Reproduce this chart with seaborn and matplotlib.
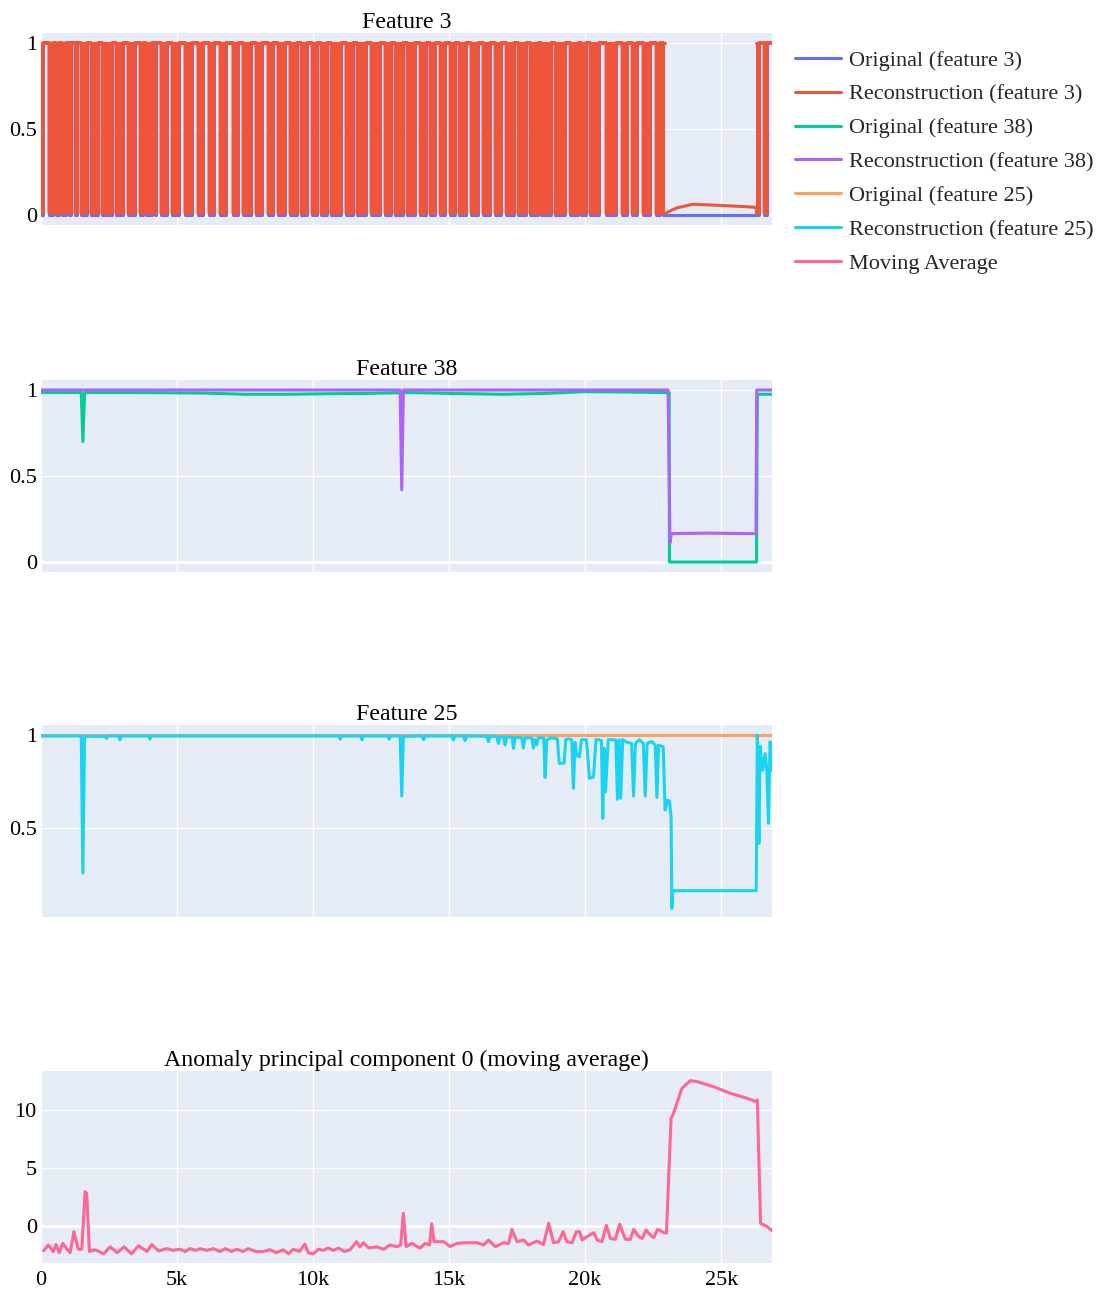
import matplotlib
matplotlib.use("Agg")
import matplotlib.pyplot as plt
import seaborn as sns
import numpy as np
from matplotlib.ticker import FixedLocator, FuncFormatter

# ---------------------------------------------------------------- data
X_END = 26870

# Feature 3: stretches where the signal rests at 1; between them it toggles
# densely between 0 and 1
F3_GAPS = [(74, 294), (441, 551), (662, 772), (919, 1029), (1103, 1250),
           (1324, 1471), (1691, 1838), (2096, 2243), (2610, 2757),
           (3015, 3199), (3456, 3640), (3750, 3860), (4081, 4191),
           (4228, 4412), (4632, 4816), (5074, 5294), (5551, 5772),
           (5956, 6176), (6360, 6581), (6801, 7059), (7243, 7426),
           (7721, 7904), (8125, 8346), (8529, 8713), (8971, 9154),
           (9412, 9559), (9779, 9963), (10147, 10294), (10515, 10662),
           (11029, 11213), (11471, 11618), (11949, 12132), (12463, 12647),
           (12868, 13015), (13309, 13456), (13750, 13934), (14154, 14301),
           (14485, 14669), (14853, 15037), (15221, 15368), (15625, 15809),
           (16066, 16250), (16507, 16691), (16912, 17096), (17390, 17537),
           (17831, 17978), (18272, 18382), (18750, 18897), (19265, 19449),
           (19743, 19853), (20037, 20184), (20515, 20772), (21140, 21360),
           (21544, 21728), (21912, 22132), (22390, 22610), (22757, 22868)]
F3_DENSE_END = 22940
F3_LOW_X = [22990, 23240, 23400, 23970, 25000, 26000, 26290]
F3_LOW_RECON = [0.015, 0.035, 0.045, 0.065, 0.058, 0.05, 0.046]
F3_TAIL_START = 26300
F3_TAIL_GAPS = [(26400, 26580), (26680, 26870)]

# Feature 38
F38_ORIG_X = [0, 1480, 1540, 1600, 3500, 6000, 7500, 9000, 10500, 12000,
              13500, 15000, 17000, 18500, 20000, 21500, 22900, 23090, 23100,
              26300, 26330, 26870]
F38_ORIG = [0.985, 0.985, 0.70, 0.985, 0.985, 0.982, 0.975, 0.975, 0.978,
            0.98, 0.985, 0.98, 0.975, 0.98, 0.99, 0.988, 0.985, 0.985, 0.0,
            0.0, 0.975, 0.975]
F38_RECON_X = [0, 13200, 13260, 13320, 23050, 23120, 23170, 24500, 26280,
               26310, 26870]
F38_RECON = [1.0, 1.0, 0.42, 1.0, 1.0, 0.11, 0.165, 0.168, 0.165, 1.0, 1.0]

# Feature 25
F25_ORIG_X = [0, 26870]
F25_ORIG = [1.0, 1.0]
F25_RECON_X = [0, 1480, 1540, 1600, 2350, 2410, 2470, 2850, 2900, 2950,
               3950, 4000, 4050, 6000, 8000, 10950, 11000, 11050, 11750,
               11800, 11850, 12750, 12800, 12850, 13200, 13260, 13320, 13990,
               14060, 14130, 15100, 15160, 15220, 15530, 15590, 15650, 16390,
               16450, 16510, 16750, 16810, 16870, 17000, 17060, 17120, 17310,
               17370, 17430, 17670, 17730, 17790, 18040, 18100, 18160, 18220,
               18280, 18480, 18530, 18590, 18650, 18720, 18980, 19050, 19230,
               19290, 19400, 19510, 19570, 19630, 19690, 19790, 19870, 20050,
               20160, 20310, 20400, 20500, 20600, 20650, 20700, 20750, 20850,
               21000, 21130, 21190, 21250, 21310, 21380, 21560, 21710, 21780,
               21850, 22000, 22140, 22210, 22280, 22450, 22580, 22640, 22700,
               22870, 22940, 23030, 23100, 23160, 23190, 23220, 26290, 26330,
               26390, 26430, 26530, 26620, 26680, 26740, 26800, 26870]
F25_RECON = [0.995, 0.995, 0.258, 0.993, 0.993, 0.982, 0.995, 0.995, 0.975,
             0.995, 0.995, 0.978, 0.995, 0.995, 0.995, 0.995, 0.978, 0.995,
             0.995, 0.975, 0.995, 0.995, 0.978, 0.995, 0.995, 0.672, 0.993,
             0.995, 0.975, 0.995, 0.995, 0.973, 0.995, 0.995, 0.97, 0.995,
             0.993, 0.964, 0.993, 0.993, 0.955, 0.99, 0.99, 0.946, 0.99,
             0.988, 0.928, 0.988, 0.985, 0.93, 0.985, 0.985, 0.93, 0.975,
             0.946, 0.985, 0.985, 0.772, 0.975, 0.977, 0.985, 0.98, 0.848,
             0.85, 0.975, 0.98, 0.975, 0.713, 0.96, 0.89, 0.883, 0.975,
             0.975, 0.767, 0.775, 0.975, 0.975, 0.97, 0.552, 0.93, 0.695,
             0.975, 0.975, 0.973, 0.654, 0.975, 0.66, 0.975, 0.96, 0.955,
             0.672, 0.955, 0.975, 0.955, 0.672, 0.955, 0.965, 0.946, 0.665,
             0.946, 0.937, 0.597, 0.65, 0.645, 0.561, 0.068, 0.163, 0.163,
             1.0, 0.418, 0.94, 0.81, 0.90, 0.81, 0.525, 0.964, 0.81]

# Anomaly principal component 0, moving average
MA_X = [100, 270, 450, 550, 670, 800, 940, 1070, 1210, 1370, 1500, 1620,
        1680, 1780, 2000, 2300, 2540, 2800, 3050, 3330, 3580, 3900, 4070,
        4320, 4620, 4860, 5100, 5300, 5480, 5700, 5850, 6100, 6330, 6580,
        6780, 7000, 7200, 7420, 7620, 7900, 8150, 8420, 8650, 8900, 9100,
        9270, 9500, 9700, 9820, 10000, 10200, 10380, 10560, 10750, 10930,
        11150, 11360, 11600, 11720, 11850, 12050, 12340, 12600, 12830, 13080,
        13220, 13320, 13420, 13630, 13930, 14120, 14280, 14360, 14450, 14800,
        15040, 15290, 15660, 16030, 16270, 16450, 16700, 17000, 17190, 17310,
        17500, 17740, 17920, 18230, 18470, 18660, 18840, 19030, 19190, 19330,
        19520, 19680, 19800, 19890, 20070, 20320, 20440, 20620, 20780, 20930,
        21110, 21270, 21480, 21660, 21790, 21970, 22100, 22240, 22400, 22520,
        22670, 22890, 22990, 23070, 23160, 23230, 23320, 23560, 23870, 24120,
        24730, 25340, 25960, 26290, 26330, 26450, 26570, 26700, 26870]
MA_Y = [-2.13, -1.64, -2.2, -1.6, -2.3, -1.5, -1.95, -2.3, -0.49, -2.0,
        -2.0, 2.96, 2.8, -2.2, -2.05, -2.4, -1.8, -2.3, -1.8, -2.4, -1.7,
        -2.2, -1.6, -2.15, -1.95, -2.1, -2.0, -2.2, -1.95, -2.1, -1.95, -2.1,
        -1.95, -2.2, -1.95, -2.2, -2.0, -2.2, -1.95, -2.2, -2.2, -2.05, -2.3,
        -2.05, -2.4, -2.0, -2.2, -1.55, -2.3, -2.4, -2.0, -2.1, -1.9, -2.1,
        -1.9, -2.2, -2.05, -1.35, -1.8, -1.45, -1.9, -1.8, -2.0, -1.64,
        -1.78, -1.64, 1.09, -1.78, -1.5, -1.92, -1.5, -1.64, 0.2, -1.35,
        -1.35, -1.78, -1.5, -1.44, -1.44, -1.64, -1.21, -1.78, -1.44, -1.5,
        -0.29, -1.35, -1.21, -1.64, -1.3, -1.6, 0.23, -1.44, -1.35, -0.49,
        -1.35, -1.44, -0.49, -0.49, -1.21, -0.92, -0.58, -1.21, -1.35, 0.06,
        -1.07, -1.15, 0.15, -1.15, -1.15, -0.29, -0.92, -1.07, -0.35, -0.78,
        -1.0, -0.29, -0.58, -0.6, 4.0, 9.3, 9.57, 10.2, 11.87, 12.53, 12.44,
        12.0, 11.44, 11.0, 10.72, 10.86, 0.23, 0.09, -0.06, -0.4]

LABELS = ["Original (feature 3)", "Reconstruction (feature 3)",
          "Original (feature 38)", "Reconstruction (feature 38)",
          "Original (feature 25)", "Reconstruction (feature 25)",
          "Moving Average"]
COLORS = ["#636EFA", "#EF553B", "#00CC96", "#AB63FA", "#FFA15A", "#19D3F3",
          "#FF6692"]
TITLES = ["Feature 3", "Feature 38", "Feature 25",
          "Anomaly principal component 0 (moving average)"]


def toggle_path(start, end, gaps, low):
    """Envelope path of a densely toggling 0/1 signal with resting stretches."""
    xs, ys = [start], [low]
    for s, e in gaps:
        xs += [s, s, e]
        ys += [low, 1.0, 1.0]
        if e < end:
            xs.append(e)
            ys.append(low)
    if xs[-1] < end:
        xs.append(end)
        ys.append(low)
    return xs, ys


# ---------------------------------------------------------------- style
sns.set_theme(style="darkgrid", rc={
    "axes.facecolor": "#E5ECF6",
    "grid.color": "white",
    "grid.linewidth": 1.0,
    "figure.facecolor": "white",
})
plt.rcParams["font.family"] = ["Liberation Serif", "DejaVu Serif"]

W, H = 1104, 1294
fig = plt.figure(figsize=(W / 100, H / 100), dpi=100)

left_px, right_px = 41, 772
panel_tops = [33, 380, 725, 1071]
panel_h = 192
axes = []
for top in panel_tops:
    ax = fig.add_axes([left_px / W, 1 - (top + panel_h) / H,
                       (right_px - left_px) / W, panel_h / H])
    axes.append(ax)

LW = 2.2
handles = []

# Feature 3
ax = axes[0]
bx, by = toggle_path(0, F3_DENSE_END, F3_GAPS, 0.0)
tx, ty = toggle_path(F3_TAIL_START, X_END, F3_TAIL_GAPS, 0.0)
orig3_x = bx + [F3_TAIL_START - 10] + tx
orig3_y = by + [0.0] + ty
rx, ry = toggle_path(0, F3_DENSE_END, F3_GAPS, 0.012)
rtx, rty = toggle_path(F3_TAIL_START, X_END, F3_TAIL_GAPS, 0.012)
rec3_x = rx + F3_LOW_X + rtx
rec3_y = ry + F3_LOW_RECON + rty

sns.lineplot(x=orig3_x, y=orig3_y, sort=False, estimator=None, ax=ax,
             color=COLORS[0], lw=LW, legend=False)
handles.append(ax.lines[-1])
rec3_x_arr = np.array(rec3_x, dtype=float)
dense = (rec3_x_arr <= F3_DENSE_END) | (rec3_x_arr >= F3_TAIL_START)
ax.fill_between(rec3_x_arr, rec3_y, 1.0, where=dense, color=COLORS[1],
                lw=0, zorder=2.1)
sns.lineplot(x=rec3_x, y=rec3_y, sort=False, estimator=None, ax=ax,
             color=COLORS[1], lw=LW, legend=False, zorder=2.2)
ax.plot([0, F3_DENSE_END], [1.0, 1.0], color=COLORS[1], lw=LW, zorder=2.2)
ax.plot([F3_TAIL_START, X_END], [1.0, 1.0], color=COLORS[1], lw=LW, zorder=2.2)
handles.append(ax.lines[-3])
ax.set_ylim(-0.055, 1.055)
ax.yaxis.set_major_locator(FixedLocator([0, 0.5, 1]))

# Feature 38
ax = axes[1]
sns.lineplot(x=F38_ORIG_X, y=F38_ORIG, sort=False, estimator=None, ax=ax,
             color=COLORS[2], lw=LW, legend=False)
handles.append(ax.lines[-1])
sns.lineplot(x=F38_RECON_X, y=F38_RECON, sort=False, estimator=None, ax=ax,
             color=COLORS[3], lw=LW, legend=False)
handles.append(ax.lines[-1])
ax.set_ylim(-0.058, 1.058)
ax.yaxis.set_major_locator(FixedLocator([0, 0.5, 1]))

# Feature 25
ax = axes[2]
sns.lineplot(x=F25_ORIG_X, y=F25_ORIG, sort=False, estimator=None, ax=ax,
             color=COLORS[4], lw=LW, legend=False)
handles.append(ax.lines[-1])
sns.lineplot(x=F25_RECON_X, y=F25_RECON, sort=False, estimator=None, ax=ax,
             color=COLORS[5], lw=LW, legend=False)
handles.append(ax.lines[-1])
ax.set_ylim(0.0215, 1.054)
ax.yaxis.set_major_locator(FixedLocator([0.5, 1]))

# Moving average
ax = axes[3]
sns.lineplot(x=MA_X, y=MA_Y, sort=False, estimator=None, ax=ax,
             color=COLORS[6], lw=LW, legend=False)
handles.append(ax.lines[-1])
ax.set_ylim(-3.19, 13.36)
ax.yaxis.set_major_locator(FixedLocator([0, 5, 10]))

fmt = FuncFormatter(lambda v, _: f"{v:g}")
kfmt = FuncFormatter(lambda v, _: "0" if v == 0 else f"{v / 1000:g}k")
for i, ax in enumerate(axes):
    ax.set_xlim(0, X_END)
    ax.xaxis.set_major_locator(FixedLocator([0, 5000, 10000, 15000, 20000, 25000]))
    ax.xaxis.set_major_formatter(kfmt)
    ax.yaxis.set_major_formatter(fmt)
    ax.set_xlabel("")
    ax.set_ylabel("")
    for sp in ax.spines.values():
        sp.set_visible(False)
    ax.tick_params(axis="both", length=0, labelsize=16, colors="black")
    ax.tick_params(axis="y", pad=3)
    ax.tick_params(axis="x", pad=6)
    if i < 3:
        ax.tick_params(axis="x", labelbottom=False)
    lo, hi = ax.get_ylim()
    if lo < 0 < hi:
        ax.axhline(0, color="white", lw=2.2, zorder=1.5)
    ax.set_title(TITLES[i], fontsize=17.2, pad=3.5, color="black")

fig.legend(handles, LABELS, loc="upper left",
           bbox_to_anchor=(795 / W, 1 - 50 / H), frameon=False,
           fontsize=16, borderpad=0, borderaxespad=0, handlelength=2.05,
           handletextpad=0.36, labelspacing=0.60)

fig.savefig("out.png", dpi=100)
